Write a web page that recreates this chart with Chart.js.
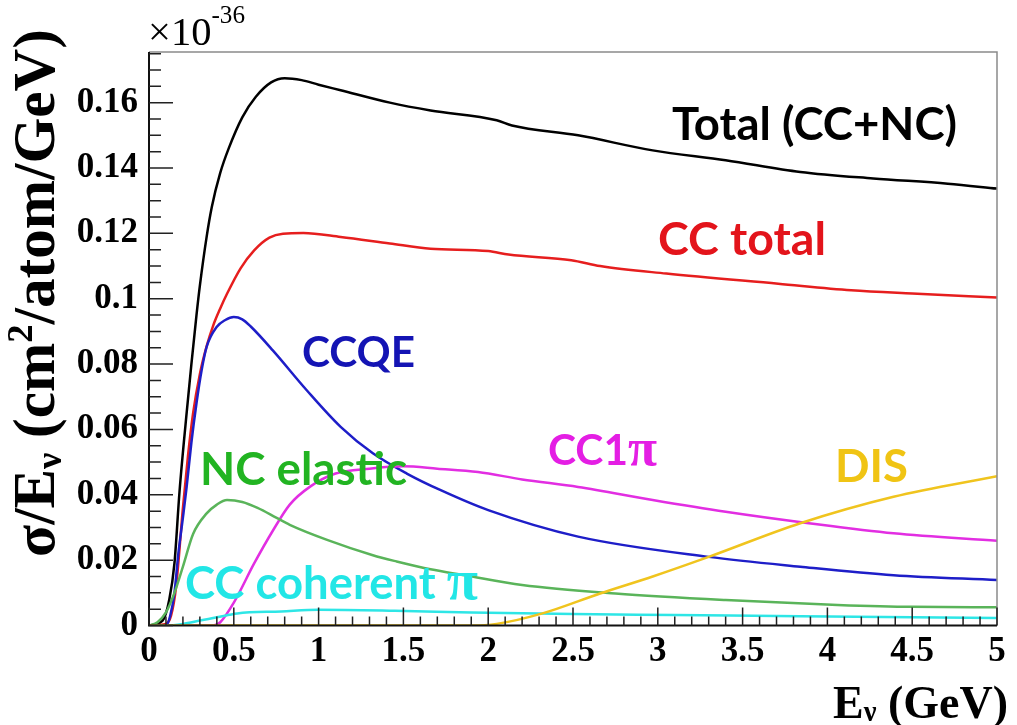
<!DOCTYPE html>
<html>
<head>
<meta charset="utf-8">
<script src="https://cdn.jsdelivr.net/npm/chart.js@4/dist/chart.umd.min.js"></script>
<style>
	html, body { margin: 0; background: #fff; }
	#wrap { width: 1017px; height: 725px; }
</style>
</head>
<body>
<div id="wrap"><canvas id="myChart" width="1017" height="725"></canvas></div>
<script>
// --------------------------- Data (E in GeV, sigma/E in 1e-36 cm2/atom/GeV) ---------------------------
const xTicks = [0, 0.5, 1, 1.5, 2, 2.5, 3, 3.5, 4, 4.5, 5];
const yTicks = [0, 0.02, 0.04, 0.06, 0.08, 0.1, 0.12, 0.14, 0.16];

const totalE = [0, 0.08, 0.12, 0.15, 0.18, 0.22, 0.25, 0.28, 0.30, 0.34, 0.37, 0.42, 0.47, 0.55, 0.63, 0.72, 0.80, 0.90, 1.00, 1.13, 1.42, 1.66, 2.05, 2.14, 2.53, 2.97, 3.40, 3.84, 4.27, 4.71, 5.00];
const totalXs = [0, 0.0015, 0.008, 0.019, 0.041, 0.064, 0.080, 0.095, 0.104, 0.119, 0.128, 0.1385, 0.146, 0.1555, 0.1618, 0.1662, 0.1675, 0.1669, 0.1655, 0.1638, 0.1600, 0.1576, 0.1546, 0.1530, 0.1500, 0.1454, 0.1424, 0.1388, 0.1368, 0.1352, 0.1337];

const ccTotalE = [0, 0.10, 0.13, 0.16, 0.20, 0.23, 0.26, 0.30, 0.34, 0.38, 0.42, 0.46, 0.54, 0.62, 0.71, 0.79, 0.91, 1.13, 1.42, 1.66, 2.00, 2.12, 2.49, 2.66, 3.05, 3.71, 4.14, 4.50, 5.00];
const ccTotalXs = [0, 0.0005, 0.003, 0.012, 0.036, 0.052, 0.065, 0.077, 0.0855, 0.092, 0.0970, 0.1015, 0.1093, 0.1148, 0.1187, 0.1199, 0.1201, 0.1189, 0.1169, 0.1153, 0.1146, 0.1135, 0.1118, 0.1100, 0.1077, 0.1046, 0.1026, 0.1016, 0.1004];

const ccqeE = [0, 0.10, 0.125, 0.15, 0.173, 0.20, 0.222, 0.25, 0.28, 0.31, 0.34, 0.40, 0.45, 0.50, 0.55, 0.60, 0.73, 0.93, 1.13, 1.32, 1.52, 1.72, 2.00, 2.53, 3.30, 3.84, 4.39, 5.00];
const ccqeXs = [0, 0, 0.003, 0.010, 0.022, 0.033, 0.0424, 0.056, 0.068, 0.078, 0.0853, 0.0914, 0.0935, 0.0944, 0.0937, 0.0915, 0.0842, 0.0720, 0.0608, 0.0527, 0.0465, 0.0414, 0.0353, 0.0272, 0.0210, 0.0180, 0.0154, 0.0139];

const cc1piE = [0, 0.38, 0.42, 0.50, 0.62, 0.73, 0.83, 0.95, 1.10, 1.30, 1.50, 1.70, 1.94, 2.20, 2.53, 2.97, 3.40, 3.89, 4.39, 5.00];
const cc1piXs = [0, 0, 0.001, 0.007, 0.019, 0.029, 0.037, 0.0425, 0.0465, 0.0480, 0.0487, 0.0480, 0.0470, 0.0447, 0.0424, 0.0384, 0.0348, 0.0313, 0.0282, 0.0259];

const ncElasticE = [0, 0.05, 0.10, 0.15, 0.20, 0.26, 0.34, 0.40, 0.46, 0.55, 0.64, 0.75, 0.83, 1.05, 1.32, 1.46, 1.66, 1.86, 2.20, 2.75, 3.40, 4.06, 4.50, 5.00];
const ncElasticXs = [0, 0.001, 0.004, 0.010, 0.018, 0.028, 0.0343, 0.0370, 0.0384, 0.0378, 0.0360, 0.0330, 0.0308, 0.0262, 0.0215, 0.0196, 0.0172, 0.0154, 0.0124, 0.0098, 0.0078, 0.0063, 0.0057, 0.0056];

const cohPiE = [0, 0.10, 0.20, 0.30, 0.40, 0.52, 0.78, 1.00, 1.45, 1.90, 2.50, 3.10, 3.84, 4.50, 5.00];
const cohPiXs = [0, 0, 0.0005, 0.0015, 0.0025, 0.0037, 0.0043, 0.0048, 0.0045, 0.0040, 0.0035, 0.0032, 0.0028, 0.0025, 0.0023];

const disE = [0, 1.00, 1.90, 2.05, 2.32, 2.66, 2.97, 3.30, 3.84, 4.39, 5.00];
const disXs = [0, 0, 0, 0.0005, 0.0037, 0.0098, 0.0150, 0.0210, 0.0313, 0.0394, 0.0457];

// --------------------------- Styles ---------------------------
const SERIF = "'Liberation Serif', 'Times New Roman', serif";
const SANS = "Lato, 'Open Sans', sans-serif";

const toPoints = (xs, ys) => xs.map((x, i) => ({ x, y: ys[i] }));

function series(label, xs, ys, color) {
	return {
		label,
		data: toPoints(xs, ys),
		borderColor: color,
		borderWidth: 2.5,
		pointRadius: 0,
		cubicInterpolationMode: "monotone",
		fill: false,
	};
}

// curve labels, placed like the original annotations (left x, baseline y, width in px)
const curveLabels = [
	{ parts: [["Total (CC+NC)", SANS]], x: 672, y: 140, w: 285, size: 45, color: "#000000" },
	{ parts: [["CC total", SANS]], x: 658, y: 255, w: 168, size: 44, color: "#e3141b" },
	{ parts: [["CCQE", SANS]], x: 302, y: 367, w: 113, size: 42, color: "#1414b4" },
	{ parts: [["CC1", SANS], ["π", SERIF, 1.25]], x: 548, y: 465, w: 109, size: 42, color: "#e41ee4" },
	{ parts: [["DIS", SANS]], x: 835, y: 482, w: 73, size: 42, color: "#f0c414" },
	{ parts: [["NC elastic", SANS]], x: 200, y: 485, w: 207, size: 42, color: "#22b422" },
	{ parts: [["CC coherent ", SANS], ["π", SERIF, 1.25]], x: 185, y: 599, w: 293, size: 42, color: "#22e6e6" },
];

// --------------------------- Decorations plugin ---------------------------
function drawParts(ctx, parts, x, y, size, weight) {
	let cx = x;
	parts.forEach(([txt, fam, scale, dy]) => {
		const s = size * (scale || 1);
		ctx.font = `${weight} ${s}px ${fam}`;
		ctx.fillText(txt, cx, y + (dy || 0) * size);
		cx += ctx.measureText(txt).width;
	});
	return cx - x;
}

function partsWidth(ctx, parts, size, weight) {
	let w = 0;
	parts.forEach(([txt, fam, scale]) => {
		ctx.font = `${weight} ${size * (scale || 1)}px ${fam}`;
		w += ctx.measureText(txt).width;
	});
	return w;
}

const rootFrame = {
	id: "rootFrame",
	afterDraw(chart) {
		const { ctx, chartArea: a, scales } = chart;
		const xs = scales.x, ys = scales.y;
		ctx.save();

		// frame
		ctx.strokeStyle = "#8a8a8a";
		ctx.lineWidth = 1.5;
		ctx.beginPath();
		ctx.moveTo(a.left, a.top);
		ctx.lineTo(a.right, a.top);
		ctx.lineTo(a.right, a.bottom);
		ctx.stroke();
		ctx.strokeStyle = "#111";
		ctx.lineWidth = 2;
		ctx.beginPath();
		ctx.moveTo(a.left, a.top);
		ctx.lineTo(a.left, a.bottom);
		ctx.lineTo(a.right, a.bottom);
		ctx.stroke();

		// inner ticks, ROOT style
		ctx.lineWidth = 1.5;
		ctx.strokeStyle = "#222";
		ctx.beginPath();
		for (let i = 0; i <= 35; i++) {
			const v = i * 0.005;
			if (v > ys.max) break;
			const py = ys.getPixelForValue(v);
			const len = i % 4 === 0 ? 24 : 12;
			ctx.moveTo(a.left, py);
			ctx.lineTo(a.left + len, py);
		}
		for (let i = 0; i <= 50; i++) {
			const px = xs.getPixelForValue(i * 0.1);
			const len = i % 5 === 0 ? 18 : 9;
			ctx.moveTo(px, a.bottom);
			ctx.lineTo(px, a.bottom - len);
		}
		ctx.stroke();

		ctx.fillStyle = "#000";
		ctx.textBaseline = "alphabetic";
		ctx.textAlign = "left";

		// exponent
		const expParts = [["×10", SERIF], ["-36", SERIF, 0.62, -0.55]];
		const expSize = 34 * 97 / partsWidth(ctx, expParts, 34, "normal");
		drawParts(ctx, expParts, 148, 45, expSize, "normal");

		// y title, rotated
		const yParts = [["σ/E", SERIF], ["ν", SERIF, 0.62, 0.12], [" (cm", SERIF], ["2", SERIF, 0.62, -0.38], ["/atom/GeV)", SERIF]];
		const ySize = 33 * 528 / partsWidth(ctx, yParts, 33, "bold");
		ctx.save();
		ctx.translate(54, 557);
		ctx.rotate(-Math.PI / 2);
		drawParts(ctx, yParts, 0, 0, ySize, "bold");
		ctx.restore();

		// x title
		const xParts = [["E", SERIF], ["ν", SERIF, 0.62, 0.06], [" (GeV)", SERIF]];
		const xSize = 36 * 175 / partsWidth(ctx, xParts, 36, "bold");
		drawParts(ctx, xParts, 1008 - 175, 718, xSize, "bold");

		// curve labels
		curveLabels.forEach((l) => {
			const size = l.size * l.w / partsWidth(ctx, l.parts, l.size, "bold");
			ctx.fillStyle = l.color;
			drawParts(ctx, l.parts, l.x, l.y, size, "bold");
		});
		ctx.restore();
	},
};

// --------------------------- Chart Object ---------------------------
const ctx = document.getElementById("myChart").getContext("2d");
const tickFont = { family: SERIF, weight: "bold", size: 35 };

const xsChart = new Chart(ctx, {
	type: "line",
	data: {
		datasets: [
			series("DIS", disE, disXs, "#f0c41e"),
			series("CC coherent pi", cohPiE, cohPiXs, "#2ee6e6"),
			series("NC elastic", ncElasticE, ncElasticXs, "#5ab45a"),
			series("CC1pi", cc1piE, cc1piXs, "#e22ee2"),
			series("CCQE", ccqeE, ccqeXs, "#1e1ec8"),
			series("CC total", ccTotalE, ccTotalXs, "#e61e1e"),
			series("Total (CC+NC)", totalE, totalXs, "#000000"),
		],
	},
	options: {
		responsive: false,
		animation: false,
		layout: { padding: { left: 0, right: 20, top: 52, bottom: 0 } },
		plugins: {
			legend: { display: false },
			tooltip: { enabled: false },
		},
		scales: {
			x: {
				type: "linear",
				min: 0,
				max: 5,
				afterBuildTicks: (s) => { s.ticks = xTicks.map((v) => ({ value: v })); },
				afterFit: (s) => { s.height = 99.5; },
				grid: { display: false, drawTicks: false },
				border: { display: false },
				ticks: {
					font: tickFont,
					color: "#000",
					padding: 5,
					maxRotation: 0,
					autoSkip: false,
					callback: (v) => String(v),
				},
			},
			y: {
				type: "linear",
				min: 0,
				max: 0.1755,
				afterBuildTicks: (s) => { s.ticks = yTicks.map((v) => ({ value: v })); },
				afterFit: (s) => { s.width = 149; },
				grid: { display: false, drawTicks: false },
				border: { display: false },
				ticks: {
					font: tickFont,
					color: "#000",
					padding: 11,
					autoSkip: false,
					callback: (v) => String(parseFloat(v.toFixed(2))),
				},
			},
		},
	},
	plugins: [rootFrame],
});
</script>
</body>
</html>
